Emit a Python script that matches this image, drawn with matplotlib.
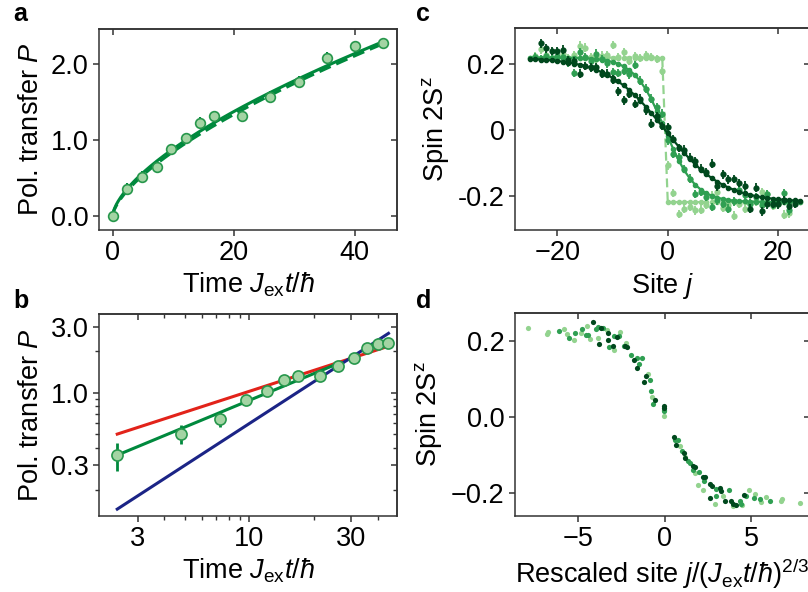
import numpy as np
import matplotlib
matplotlib.use("Agg")
import matplotlib.pyplot as plt

plt.rcParams['font.family'] = ['Liberation Sans', 'DejaVu Sans']
plt.rcParams['mathtext.fontset'] = 'custom'
plt.rcParams['mathtext.rm'] = 'Liberation Sans'
plt.rcParams['mathtext.it'] = 'Liberation Sans:italic'
plt.rcParams['mathtext.bf'] = 'Liberation Sans:bold'
plt.rcParams['font.size'] = 19.5
plt.rcParams['axes.linewidth'] = 1.1
plt.rcParams['axes.edgecolor'] = '#333333'

# panel a / b : polarization transfer
t_data = [0.0, 2.41, 4.79, 7.27, 9.64, 12.07, 14.48, 16.8, 21.4, 26.05, 30.8, 35.4, 40.1, 44.7]
P_data = [0.0, 0.353, 0.507, 0.647, 0.881, 1.023, 1.229, 1.317, 1.321, 1.572, 1.77, 2.087, 2.242, 2.28]
P_err = [0.04, 0.08, 0.08, 0.085, 0.07, 0.07, 0.07, 0.07, 0.07, 0.07, 0.07, 0.07, 0.07, 0.07]

# power-law fits P = A t^alpha
fit_solid = (0.202, 0.64)
fit_dashed = (0.185, 0.66)
diffusive = (0.324, 0.5)     # red
ballistic = (0.060, 1.0)     # blue
fit_range_b = (2.41, 25.7)   # green fit in b
theory_range_b = (2.41, 44.7)

# panel c : spin profiles at three times
j_light = np.arange(-24, 23)
S_light = [0.225, 0.245, 0.228, 0.215, 0.222, 0.230, 0.218, 0.228, 0.256, 0.250,
           0.222, 0.215, 0.226, 0.227, 0.258, 0.222, 0.237, 0.210, 0.225, 0.218,
           0.228, 0.222, 0.215, 0.179, -0.108, -0.193, -0.256, -0.240, -0.235, -0.245,
           -0.243, -0.228, -0.200, -0.190, -0.238, -0.230, -0.261, -0.225, -0.240, -0.222,
           -0.218, -0.190, -0.195, -0.232, -0.225, -0.258, -0.254]
j_med = np.arange(-24, 23)
S_med = [0.222, 0.215, 0.225, 0.218, 0.226, 0.222, 0.205, 0.173, 0.237, 0.222,
         0.210, 0.232, 0.215, 0.202, 0.176, 0.173, 0.180, 0.169, 0.197, 0.150,
         0.125, 0.095, 0.070, 0.049, -0.032, -0.073, -0.083, -0.119, -0.149, -0.195,
         -0.190, -0.205, -0.235, -0.215, -0.225, -0.240, -0.218, -0.184, -0.197, -0.225,
         -0.205, -0.230, -0.195, -0.228, -0.222, -0.192, -0.245]
j_dark = np.arange(-23, 24)
S_dark = [0.263, 0.248, 0.240, 0.240, 0.244, 0.212, 0.210, 0.171, 0.194, 0.190,
          0.190, 0.171, 0.171, 0.153, 0.117, 0.090, 0.110, 0.078, 0.095, 0.059,
          0.019, 0.042, 0.012, 0.008, -0.028, -0.055, -0.060, -0.085, -0.095, -0.118,
          -0.128, -0.103, -0.172, -0.136, -0.151, -0.150, -0.162, -0.170, -0.240, -0.176,
          -0.248, -0.227, -0.225, -0.227, -0.215, -0.232, -0.225]
S_err = 0.013
S0 = 0.22
j_theory = np.arange(-25, 25)
width_med = 5.5
width_dark = 10.5

# panel d : rescaled profiles
u_light = [-7.87, -6.79, -6.73, -5.81, -5.62, -5.21, -4.84, -4.48, -4.32, -3.88, -3.34, -2.92,
           -2.59, -2.23, -0.97, -0.74, -0.03, 0.90, 1.14, 1.72, 1.93, 2.22, 2.88, 3.34, 3.94,
           4.46, 4.85, 5.21, 5.58, 5.83, 6.72, 6.77, 7.83]
s_light = [0.236, 0.219, 0.226, 0.233, 0.219, 0.204, 0.221, 0.240, 0.206, 0.208, 0.231, 0.177,
           0.224, 0.197, 0.113, 0.054, 0.004, -0.075, -0.104, -0.148, -0.179, -0.192, -0.229,
           -0.207, -0.235, -0.233, -0.192, -0.203, -0.225, -0.212, -0.222, -0.215, -0.226]
u_med = [-6.08, -5.54, -5.16, -4.75, -4.55, -4.40, -3.96, -3.83, -3.54, -3.19, -2.94, -2.63,
         -2.38, -1.95, -1.61, -1.32, -1.47, -0.86, -0.80, -0.65, -0.05, -0.03, 0.60, 0.76,
         1.01, 1.32, 1.47, 1.63, 1.95, 2.24, 2.96, 3.69, 2.96, 4.32, 4.42, 4.71, 5.17, 5.52, 6.06]
s_med = [0.228, 0.210, 0.222, 0.234, 0.217, 0.217, 0.233, 0.237, 0.235, 0.186, 0.213, 0.215,
         0.187, 0.164, 0.156, 0.157, 0.140, 0.098, 0.070, 0.036, 0.020, 0.015, -0.060, -0.061,
         -0.089, -0.117, -0.120, -0.139, -0.146, -0.168, -0.190, -0.193, -0.207, -0.221, -0.228,
         -0.208, -0.214, -0.217, -0.221]
u_dark = [-4.15, -3.80, -3.67, -3.27, -3.27, -2.98, -2.73, -2.28, -2.18, -1.76, -1.63, -1.09,
          -1.17, -0.55, -0.05, -0.03, 0.51, 0.66, 1.09, 1.18, 1.61, 1.75, 2.18, 2.34, 2.63,
          2.73, 3.21, 3.25, 2.63, 3.50, 3.83, 3.94, 4.13, 4.55]
s_dark = [0.252, 0.193, 0.236, 0.222, 0.203, 0.188, 0.211, 0.188, 0.184, 0.151, 0.129, 0.109,
          0.094, 0.045, 0.029, 0.023, -0.053, -0.073, -0.095, -0.109, -0.130, -0.132, -0.159,
          -0.159, -0.177, -0.181, -0.187, -0.194, -0.214, -0.221, -0.221, -0.228, -0.231, -0.206]

c_line = '#00893d'
c_face = '#a3d4a3'
c_edge = '#27974c'
c_red = '#e2231a'
c_blue = '#1b2486'
c_light = '#93d38f'
c_med = '#2f9f52'
c_dark = '#00481d'


def style(ax, xt, xl, yt, yl, xminor=None, yminor=None):
    ax.set_xticks(xt)
    ax.set_xticklabels(xl)
    ax.set_yticks(yt)
    ax.set_yticklabels(yl)
    if xminor is not None:
        ax.set_xticks(xminor, minor=True)
        ax.xaxis.set_minor_formatter(matplotlib.ticker.NullFormatter())
    if yminor is not None:
        ax.set_yticks(yminor, minor=True)
        ax.yaxis.set_minor_formatter(matplotlib.ticker.NullFormatter())
    ax.tick_params(which='major', direction='out', length=4.5, width=1.1, color='#333333', pad=3)
    ax.tick_params(which='minor', direction='out', length=3, width=1.0, color='#333333')
    top = ax.secondary_xaxis('top')
    top.set_xticks(xt)
    if xminor is not None:
        top.set_xticks(xminor, minor=True)
    top.tick_params(which='major', direction='in', length=4.5, width=1.1, labeltop=False, color='#333333')
    top.tick_params(which='minor', direction='in', length=3, width=1.0, labeltop=False, color='#333333')
    right = ax.secondary_yaxis('right')
    right.set_yticks(yt)
    if yminor is not None:
        right.set_yticks(yminor, minor=True)
    right.tick_params(which='major', direction='in', length=4.5, width=1.1, labelright=False, color='#333333')
    right.tick_params(which='minor', direction='in', length=3, width=1.0, labelright=False, color='#333333')


W, H = 808, 592
fig = plt.figure(figsize=(W / 100, H / 100), dpi=100)


def box(l, r, t, b):
    return [l / W, 1 - b / H, (r - l) / W, (b - t) / H]


ax_a = fig.add_axes(box(99, 397, 29, 230))
ax_b = fig.add_axes(box(99, 397, 314, 516))
ax_c = fig.add_axes(box(515, 809.5, 28, 230))
ax_d = fig.add_axes(box(515, 809.5, 313, 516))

# ---- a
tt = np.linspace(0, 44.7, 300)
ax_a.plot(tt, fit_solid[0] * tt ** fit_solid[1], '-', color=c_line, lw=2.2, zorder=2)
ax_a.plot(tt, fit_dashed[0] * tt ** fit_dashed[1], '--', color=c_line, lw=2.2, dashes=(4, 2), zorder=2)
ax_a.errorbar(t_data, P_data, yerr=P_err, fmt='o', ms=7, mfc=c_face, mec=c_edge, mew=1.2,
              ecolor=c_line, elinewidth=1.5, capsize=0, zorder=3)
ax_a.set_xlim(-2.26, 47.0)
ax_a.set_ylim(-0.19, 2.466)
style(ax_a, [0, 20, 40], ['0', '20', '40'], [0, 1, 2], ['0.0', '1.0', '2.0'])
ax_a.set_xlabel(r'Time $J_{\rm ex}t/\hbar$', labelpad=3)
ax_a.set_ylabel(r'Pol. transfer $P$', labelpad=5)

# ---- b
ax_b.set_xscale('log')
ax_b.set_yscale('log')
tr = np.geomspace(*theory_range_b, 100)
tf = np.geomspace(*fit_range_b, 100)
ax_b.plot(tr, diffusive[0] * tr ** diffusive[1], '-', color=c_red, lw=2.2)
ax_b.plot(tr, ballistic[0] * tr ** ballistic[1], '-', color=c_blue, lw=2.2)
ax_b.plot(tf, fit_solid[0] * tf ** fit_solid[1], '-', color=c_line, lw=2.2)
ax_b.errorbar(t_data[1:], P_data[1:], yerr=P_err[1:], fmt='o', ms=8, mfc=c_face, mec=c_edge,
              mew=1.2, ecolor=c_line, elinewidth=2, capsize=0, zorder=3)
ax_b.set_xlim(1.98, 49)
ax_b.set_ylim(0.129, 3.70)
style(ax_b, [3, 10, 30], ['3', '10', '30'], [0.3, 1, 3], ['0.3', '1.0', '3.0'],
      xminor=[4, 5, 6, 7, 8, 9, 20, 40],
      yminor=[0.2, 0.4, 0.5, 0.6, 0.7, 0.8, 0.9, 2])
ax_b.set_xlabel(r'Time $J_{\rm ex}t/\hbar$', labelpad=3)
ax_b.set_ylabel(r'Pol. transfer $P$', labelpad=5)

# ---- c
step = np.where(j_theory < 0, S0, -S0)
prof_med = -S0 * np.tanh((j_theory + 0.5) / width_med)
prof_dark = -S0 * np.tanh((j_theory + 0.5) / width_dark)
ax_c.plot(j_theory, step, '--', marker='o', ms=3, color=c_light, lw=1.6, dashes=(4, 2), zorder=2)
ax_c.errorbar(j_light, S_light, yerr=S_err, fmt='o', ms=4.5, color=c_light, mew=0,
              elinewidth=1.3, capsize=0, zorder=3)
ax_c.plot(j_theory, prof_med, '-', marker='o', ms=3, color=c_med, lw=1.6, zorder=4)
ax_c.errorbar(j_med, S_med, yerr=S_err, fmt='o', ms=4.5, color=c_med, mew=0,
              elinewidth=1.3, capsize=0, zorder=5)
ax_c.plot(j_theory, prof_dark, '-', marker='o', ms=3, color=c_dark, lw=1.6, zorder=6)
ax_c.errorbar(j_dark, S_dark, yerr=S_err, fmt='o', ms=4.5, color=c_dark, mew=0,
              elinewidth=1.3, capsize=0, zorder=7)
ax_c.set_xlim(-27.7, 25.7)
ax_c.set_ylim(-0.305, 0.31)
style(ax_c, [-20, 0, 20], ['\u221220', '0', '20'], [-0.2, 0, 0.2], ['-0.2', '0', '0.2'])
ax_c.set_xlabel(r'Site $j$', labelpad=3)
ax_c.set_ylabel(r'Spin 2S$^{\mathrm{z}}$', labelpad=5)

# ---- d
ax_d.scatter(u_light, s_light, s=14, color=c_light, lw=0, zorder=3)
ax_d.scatter(u_med, s_med, s=14, color=c_med, lw=0, zorder=4)
ax_d.scatter(u_dark, s_dark, s=14, color=c_dark, lw=0, zorder=5)
ax_d.set_xlim(-8.64, 8.35)
ax_d.set_ylim(-0.261, 0.275)
style(ax_d, [-5, 0, 5], ['\u22125', '0', '5'], [-0.2, 0, 0.2], ['\u22120.2', '0.0', '0.2'])
ax_d.set_xlabel(r'Rescaled site $j/(J_{\rm ex}t/\hbar)^{2/3}$', labelpad=3)
ax_d.set_ylabel(r'Spin 2S$^{\mathrm{z}}$', labelpad=5)

for lab, x, y in [('a', 13, 21), ('b', 13, 308), ('c', 416, 21), ('d', 416, 308)]:
    fig.text(x / W, 1 - y / H, lab, fontsize=18, fontweight='bold', va='baseline', ha='left')

fig.savefig('out.png', dpi=100)
